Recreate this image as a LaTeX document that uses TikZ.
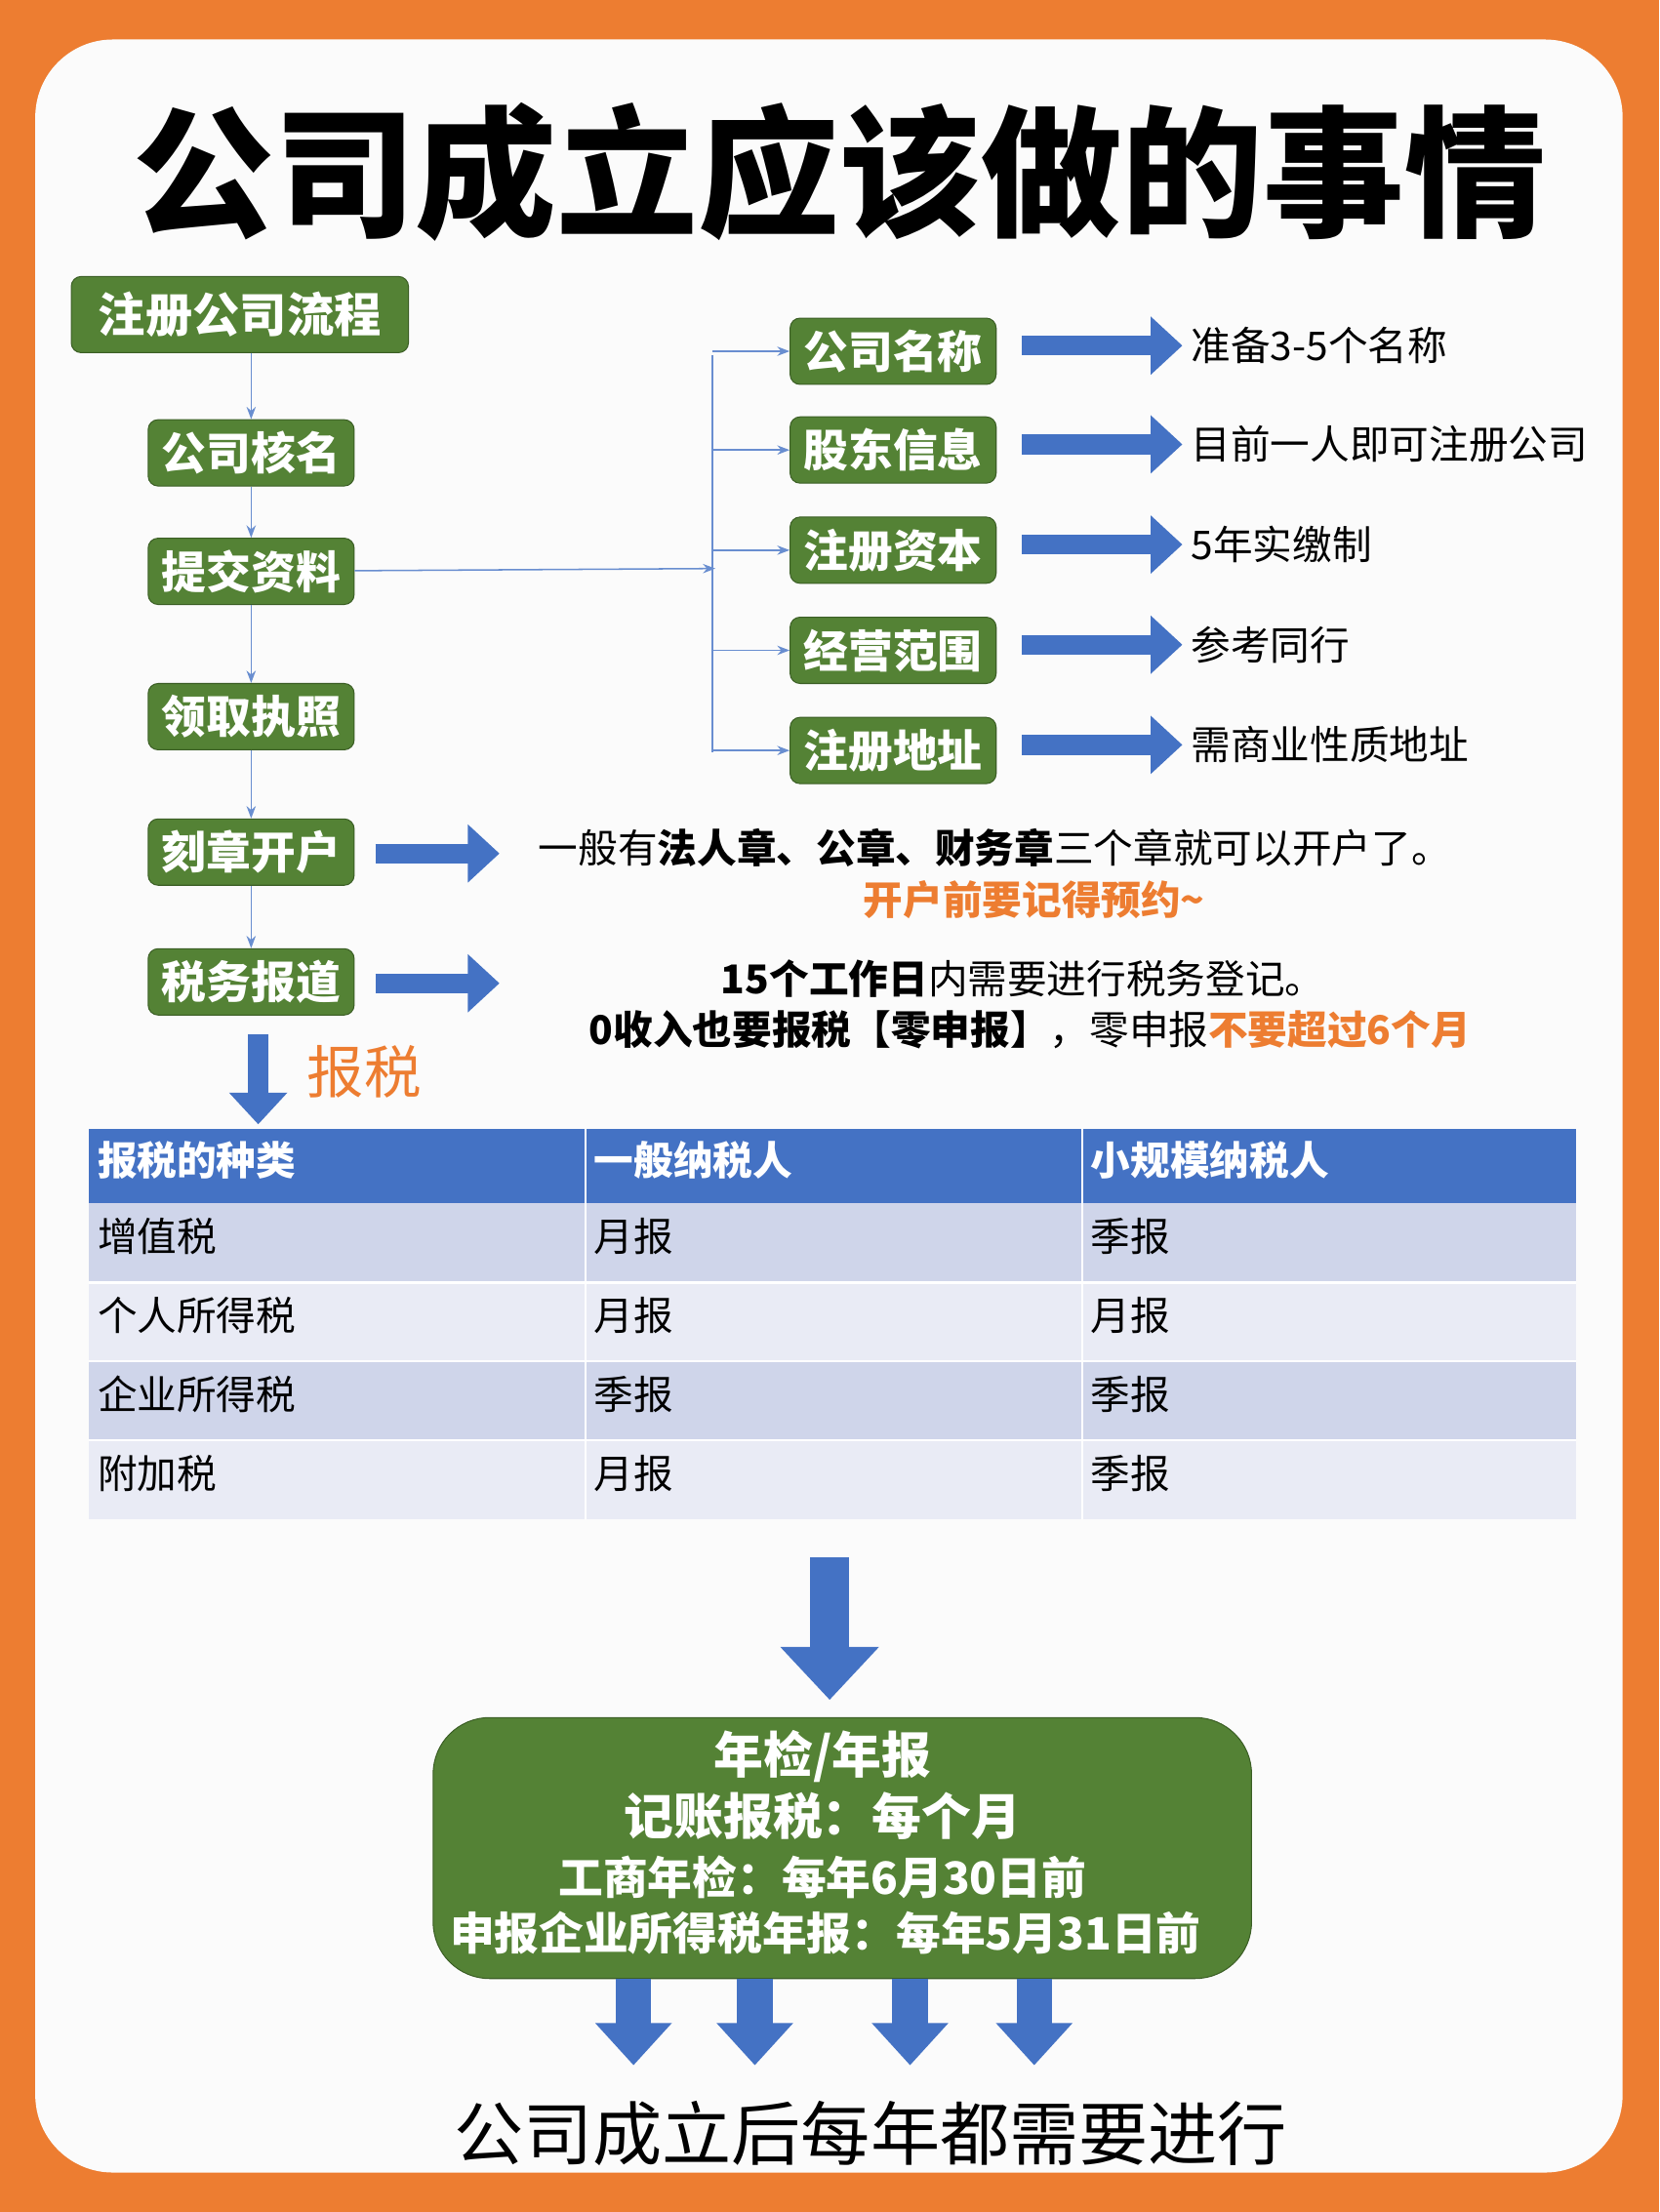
\documentclass[tikz,border=0pt]{standalone}
\usepackage{fontspec}
\setmainfont{Noto Sans CJK SC}
\usetikzlibrary{arrows.meta,positioning,calc}
\definecolor{bgorange}{HTML}{ED7D31}
\definecolor{boxgreen}{HTML}{548235}
\definecolor{boxedge}{HTML}{3B5E25}
\definecolor{tblue}{HTML}{4472C4}
\definecolor{rowa}{HTML}{CFD5EA}
\definecolor{rowb}{HTML}{E9EBF5}
\newcommand{\px}[1]{\fontsize{#1}{#1}\selectfont}
\begin{document}
\begin{tikzpicture}[x=0.02cm,y=-0.02cm,
    step box/.style={draw=boxedge, fill=boxgreen, rounded corners=4pt, text=white, font=\px{18pt}\bfseries, minimum width=146*0.02cm, minimum height=47*0.02cm, inner sep=1pt},
    note/.style={anchor=west, font=\px{16pt}},
    thin arrow/.style={-{Stealth[length=5pt]}, tblue!80, line width=0.6pt},
    fat arrow/.style={line width=0.28cm, tblue, -{Triangle[length=0.45cm,width=0.8cm]}},
    cell/.style={anchor=north west, font=\px{16pt}}
]
    \useasboundingbox (0,0) rectangle (1176,1568);
    % Background
    \fill[bgorange] (0,0) rectangle (1176,1568);
    \fill[white!97!gray, rounded corners=1.1cm] (25,28) rectangle (1150,1540);
    \node[font=\px{57pt}\bfseries] (title) at (595,122) {公司成立应该做的事情};

    % Left flow
    \node[step box, minimum width=239*0.02cm, minimum height=54*0.02cm, font=\px{19pt}\bfseries] (flow) at (170,223) {注册公司流程};
    \node[step box] (name) at (178,321) {公司核名};
    \node[step box] (submit) at (178,405) {提交资料};
    \node[step box] (license) at (178,508) {领取执照};
    \node[step box] (seal) at (178,604) {刻章开户};
    \node[step box] (tax) at (178,696) {税务报道};
    \draw[thin arrow] (flow.south -| name) -- (name);
    \draw[thin arrow] (name) -- (submit);
    \draw[thin arrow] (submit) -- (license);
    \draw[thin arrow] (license) -- (seal);
    \draw[thin arrow] (seal) -- (tax);

    % Right items
    \coordinate (fork) at (507,403);
    \draw[thin arrow] (submit) -- (fork);
    \draw[tblue!80, line width=0.6pt] (505,252) -- (505,533);
    \foreach \k/\y/\t/\n in {cname/249/公司名称/准备3-5个名称, holder/319/股东信息/目前一人即可注册公司, capital/390/注册资本/5年实缴制, scope/461/经营范围/参考同行, addr/532/注册地址/需商业性质地址}{
        \node[step box] (\k) at (633,\y) {\t};
        \draw[thin arrow] (505,\y) -- (\k.west);
        \node[note] (\k-note) at (838,\y-4) {\n};
        \draw[fat arrow] (\k.east) ++(18,-4) coordinate (\k-a) -- (\k-note.west);
    }

    % Seal and tax notes
    \coordinate (seal-a) at (266,605);
    \coordinate (seal-b) at (354,605);
    \draw[fat arrow] (seal-a) -- (seal-b);
    \node[font=\px{16pt}] (seal-note) at (705,601) {一般有\textbf{法人章、公章、财务章}三个章就可以开户了。};
    \node[font=\px{16pt}\bfseries, text=bgorange] (seal-tip) at (733,638) {开户前要记得预约\textasciitilde};
    \coordinate (tax-a) at (266,697);
    \coordinate (tax-b) at (354,697);
    \draw[fat arrow] (tax-a) -- (tax-b);
    \node[font=\px{16pt}] (tax-note) at (725,694) {\textbf{15个工作日}内需要进行税务登记。};
    \node[font=\px{16pt}] (tax-tip) at (730,730) {\textbf{0收入也要报税【零申报】}，零申报\textcolor{bgorange}{\textbf{不要超过6个月}}};

    % Tax table
    \coordinate (down-a) at (183,733);
    \coordinate (down-b) at (183,797);
    \draw[fat arrow] (down-a) -- (down-b);
    \node[font=\px{23pt}, text=bgorange] (baoshui) at (258,760) {报税};
    \fill[tblue] (63,800) rectangle (1117,853);
    \foreach \r/\c in {0/rowa,1/rowb,2/rowa,3/rowb}
        \fill[\c] (63,853+\r*56) rectangle (1117,909+\r*56);
    \draw[white, line width=1pt] (415,800) -- (415,1077) (767,800) -- (767,1077);
    \foreach \r in {1,2,3}
        \draw[white, line width=1pt] (63,853+\r*56) -- (1117,853+\r*56);
    \foreach \x/\t in {63/报税的种类, 415/一般纳税人, 767/小规模纳税人}
        \node[cell, text=white, font=\px{16pt}\bfseries] at (\x,803) {\t};
    \foreach \r/\a/\b/\c in {0/增值税/月报/季报, 1/个人所得税/月报/月报, 2/企业所得税/季报/季报, 3/附加税/月报/季报}{
        \node[cell] at (63,857+\r*56) {\a};
        \node[cell] at (415,857+\r*56) {\b};
        \node[cell] at (767,857+\r*56) {\c};
    }

    % Yearly box
    \coordinate (year-a) at (588,1104);
    \coordinate (year-b) at (588,1205);
    \draw[fat arrow, line width=0.55cm, -{Triangle[length=0.75cm,width=1.35cm]}] (year-a) -- (year-b);
    \node[draw=boxedge, fill=boxgreen, rounded corners=0.8cm, minimum width=580*0.02cm, minimum height=185*0.02cm] (yearly) at (597,1310) {};
    \node[text=white, font=\px{20pt}\bfseries] at (583,1245) {年检/年报};
    \node[text=white, font=\px{20pt}\bfseries] at (583,1287) {记账报税：每个月};
    \node[text=white, font=\px{18pt}\bfseries] at (583,1331) {工商年检：每年6月30日前};
    \node[text=white, font=\px{18pt}\bfseries] at (585,1370) {申报企业所得税年报：每年5月31日前};
    \node[font=\px{28pt}] (every-year) at (617,1512) {公司成立后每年都需要进行};
    \foreach \x in {449,535,645,733}
        \draw[fat arrow, line width=0.5cm, -{Triangle[length=0.6cm,width=1.05cm]}] (yearly.south -| \x,0) -- (\x,1464);
\end{tikzpicture}
\end{document}
